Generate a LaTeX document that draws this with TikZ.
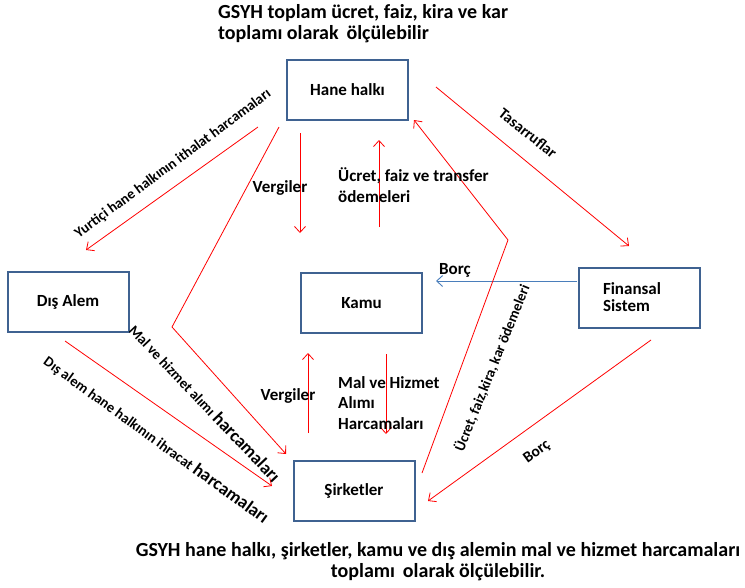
\documentclass[tikz,border=0pt]{standalone}
\usepackage{fontspec}
\setmainfont{Carlito}[BoldFont={Carlito Bold}]
\usetikzlibrary{arrows.meta}
\definecolor{boxblue}{RGB}{63,98,145}
\definecolor{flowblue}{RGB}{74,126,187}
\begin{document}
\begin{tikzpicture}[x=1pt,y=-1pt,
  sector/.style={draw=boxblue,line width=2pt,minimum width=121pt,minimum height=60pt,
    inner sep=0pt,font=\fontsize{17}{17}\selectfont\bfseries},
  flow/.style={draw=red,line width=0.8pt,-{Straight Barb[length=6pt,width=11pt,line width=0.8pt]}},
  vflow/.style={flow,line width=1pt},
  credit/.style={draw=flowblue,line width=0.9pt,-{Straight Barb[length=6pt,width=11pt,line width=0.9pt]}},
  lbl/.style={inner sep=0pt,font=\fontsize{17}{20.5}\selectfont\bfseries,align=left},
  slbl/.style={inner sep=0pt,font=\fontsize{14.5}{16}\selectfont\bfseries},
  mlbl/.style={inner sep=0pt,font=\fontsize{15.5}{16}\selectfont\bfseries},
  title/.style={inner sep=0pt,font=\fontsize{20}{21.5}\selectfont\bfseries}]
\useasboundingbox (0,0) rectangle (745,587);

% sectors
\node[sector] (hane) at (347.5,90) {Hane halkı};
\node[sector] (dis) at (68,301.5) {Dış Alem\hspace{9pt}};
\node[sector] (kamu) at (361.5,303) {Kamu};
\node[sector,align=left,text width=72pt] (fin) at (639,297.5) {Finansal\\Sistem};
\node[sector] (sirket) at (354,491) {Şirketler};

% headline texts
\node[title,align=left,anchor=north west] (ust) at (218,4) {GSYH toplam ücret, faiz, kira ve kar\\toplamı olarak\, ölçülebilir};
\node[title,align=center,anchor=north] (alt) at (438,542) {GSYH hane halkı, şirketler, kamu ve dış alemin mal ve hizmet harcamaları\\toplamı\, olarak ölçülebilir.};

% connector end points
\coordinate (h1) at (258,127);
\coordinate (d1) at (86,250);
\coordinate (h2) at (279,127);
\coordinate (k2) at (172,327);
\coordinate (s2) at (286,454);
\coordinate (d3) at (65,341);
\coordinate (s3) at (272,486);
\coordinate (h4) at (300,133);
\coordinate (k4) at (300,233);
\coordinate (k5) at (379,227);
\coordinate (h5) at (379,140);
\coordinate (s6) at (308,433);
\coordinate (k6) at (308,353);
\coordinate (k7) at (386,354);
\coordinate (s7) at (386,434);
\coordinate (f8) at (577,281);
\coordinate (k8) at (436,281);
\coordinate (s9) at (422,473);
\coordinate (b9) at (508,240);
\coordinate (h9) at (414,120);
\coordinate (h10) at (436,87);
\coordinate (f10) at (629,246);
\coordinate (f11) at (651,340);
\coordinate (s11) at (428,501);

% flows
\draw[flow] (h1) -- (d1);
\draw[flow] (h2) -- (k2) -- (s2);
\draw[flow] (d3) -- (s3);
\draw[vflow] (h4) -- (k4);
\draw[vflow] (k5) -- (h5);
\draw[vflow] (s6) -- (k6);
\draw[vflow] (k7) -- (s7);
\draw[credit] (f8) -- (k8);
\draw[flow] (s9) -- (b9) -- (h9);
\draw[flow] (h10) -- (f10);
\draw[flow] (f11) -- (s11);

% flow labels
\node[slbl,rotate=36.5] (l1) at (173,164) {Yurtiçi hane halkının ithalat harcamaları};
\node[slbl,rotate=-46.5] (l2) at (205,403) {Mal ve hizmet alımı {\fontsize{18}{18}\selectfont harcamaları}};
\node[slbl,rotate=-36] (l3) at (156,440) {Dış alem hane halkının ihracat {\fontsize{18}{18}\selectfont harcamaları}};
\node[lbl] (l4) at (280,188) {Vergiler};
\node[lbl,anchor=west] (l5) at (338,185) {Ücret, faiz ve transfer\\ödemeleri};
\node[lbl] (l6) at (288,396) {Vergiler};
\node[lbl,anchor=west] (l7) at (338,403) {Mal ve Hizmet\\Alımı\\Harcamaları};
\node[lbl] (l8) at (455,270) {Borç};
\node[slbl,rotate=68] (l9) at (492,368) {Ücret, faiz,kira, kar ödemeleri};
\node[mlbl,rotate=-38.5] (l10) at (528,133) {Tasarruflar};
\node[mlbl,rotate=36] (l11) at (537,452) {Borç};
\end{tikzpicture}
\end{document}
